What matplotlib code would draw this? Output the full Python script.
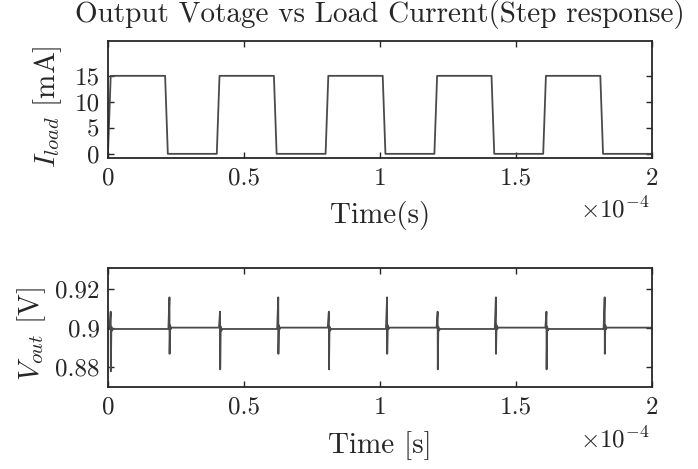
import numpy as np
import matplotlib
matplotlib.use('Agg')
from matplotlib import pyplot as plt

# load current breakpoints (time in us, current in mA)
t_load = [0, 1, 21, 22, 40, 41, 61, 62, 80, 81, 101, 102,
          120, 121, 141, 142, 160, 161, 181, 182, 200]
i_load = [0, 15, 15, 0, 0, 15, 15, 0, 0, 15, 15, 0,
          0, 15, 15, 0, 0, 15, 15, 0, 0]

# output voltage transients at each load step (time in us, volts)
spike_t = [1.0, 22.6, 41.2, 62.6, 81.2, 102.6, 121.2, 142.6, 161.2, 182.6]
spike_hi = [0.9085, 0.9159, 0.9085, 0.9159, 0.9085, 0.9159, 0.9085,
            0.9159, 0.9085, 0.9159]
spike_lo = [0.8778, 0.8868, 0.8788, 0.8868, 0.8788, 0.8868, 0.8788,
            0.8868, 0.8788, 0.8868]
level_after = [0.8996, 0.9003, 0.8996, 0.9003, 0.8996, 0.9003, 0.8996,
               0.9003, 0.8996, 0.9003]
v_start = 0.8996
t_end = 200.0

xticks = [0, 0.5, 1, 1.5, 2]
xticklabels = ['0', '0.5', '1', '1.5', '2']

plt.rcParams['font.family'] = 'cmr10'
plt.rcParams['mathtext.fontset'] = 'cm'
plt.rcParams['axes.formatter.use_mathtext'] = True
plt.rcParams['axes.unicode_minus'] = False

lineCol = '#4a4a4a'
frameCol = '#262626'
tickFs = 18
labFs = 21

# build the voltage trace from the transient list
t_v = [0.0]
v_out = [v_start]
prev = v_start
for ts, hi, lo, lev in zip(spike_t, spike_hi, spike_lo, level_after):
    t_v += [ts - 0.4, ts, ts + 0.05, ts + 0.25, ts + 0.5, ts + 0.8]
    v_out += [prev, hi, lo, lev + 0.0012, lev - 0.0008, lev]
    prev = lev
t_v.append(t_end)
v_out.append(prev)

# time axis shown in units of 1e-4 s
t_load_ax = np.array(t_load) * 1e-2
t_v_ax = np.array(t_v) * 1e-2

fig = plt.figure(figsize=(6.98, 4.69), dpi=100)
ax1 = fig.add_axes([0.1547, 0.6631, 0.7794, 0.2495])
ax2 = fig.add_axes([0.1547, 0.1748, 0.7794, 0.2537])

ax1.plot(t_load_ax, i_load, color=lineCol, lw=1.3)
ax2.plot(t_v_ax, v_out, color=lineCol, lw=1.3)

for ax in (ax1, ax2):
    ax.set_xlim(0, 2)
    ax.set_xticks(xticks)
    ax.set_xticklabels(xticklabels)
    ax.tick_params(direction='in', length=4, width=1.0, top=True, right=True,
                   labelsize=tickFs, colors=frameCol)
    ax.tick_params(axis='x', pad=7)
    ax.tick_params(axis='y', pad=6)
    for s in ax.spines.values():
        s.set_linewidth(1.3)
        s.set_color(frameCol)

ax1.set_ylim(-0.8, 21.7)
ax1.set_yticks([0, 5, 10, 15])
ax1.set_yticklabels(['0', '5', '10', '15'])
ax1.set_xlabel('Time(s)', fontsize=labFs, color=frameCol)
ax1.xaxis.set_label_coords(0.5, -0.37)
ax1.set_ylabel(r'$I_{load}$ [mA]', fontsize=labFs, color=frameCol)
ax1.yaxis.set_label_coords(-0.08, 0.44)
ax1.set_title('Output Votage vs Load Current(Step response)', fontsize=labFs,
              color=frameCol, pad=14)
ax1.text(0.996, -0.44, r'$\times10^{-4}$', transform=ax1.transAxes,
         ha='right', va='center', fontsize=tickFs, color=frameCol)

ax2.set_ylim(0.8697, 0.931)
ax2.set_yticks([0.88, 0.9, 0.92])
ax2.set_yticklabels(['0.88', '0.9', '0.92'])
ax2.set_xlabel('Time [s]', fontsize=labFs, color=frameCol)
ax2.xaxis.set_label_coords(0.5, -0.37)
ax2.set_ylabel(r'$V_{out}$ [V]', fontsize=labFs, color=frameCol)
ax2.yaxis.set_label_coords(-0.11, 0.45)
ax2.text(0.996, -0.445, r'$\times10^{-4}$', transform=ax2.transAxes,
         ha='right', va='center', fontsize=tickFs, color=frameCol)

fig.savefig('out.png', dpi=100)
plt.close(fig)
